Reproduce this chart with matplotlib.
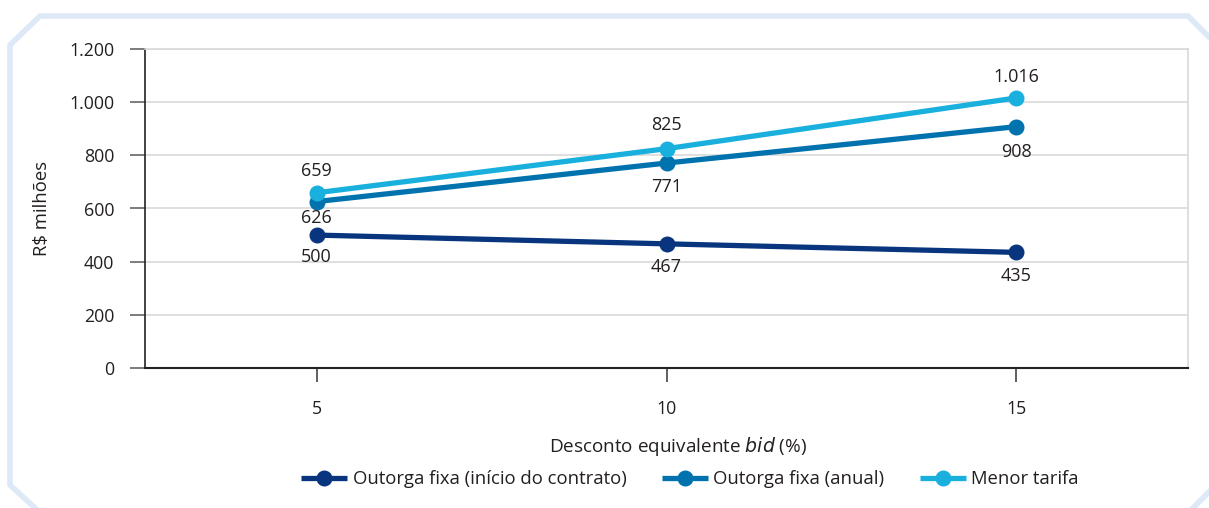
import matplotlib
matplotlib.use("Agg")
import matplotlib.pyplot as plt
from matplotlib.lines import Line2D

plt.rcParams['font.family'] = ['Open Sans', 'DejaVu Sans']

categories = ["5", "10", "15"]
series_names = ["Outorga fixa (início do contrato)", "Outorga fixa (anual)", "Menor tarifa"]
outorga_inicio = [500, 467, 435]
outorga_anual = [626, 771, 908]
menor_tarifa = [659, 825, 1016]
value_labels_inicio = ["500", "467", "435"]
value_labels_anual = ["626", "771", "908"]
value_labels_tarifa = ["659", "825", "1.016"]
yticks = [0, 200, 400, 600, 800, 1000, 1200]
ytick_labels = ["0", "200", "400", "600", "800", "1.000", "1.200"]

# label offsets in points (layout only)
label_offsets = [[-16, -17, -17], [-12, -17, -18], [16, 17, 15]]

colors = ["#08357d", "#0072ae", "#1ab0de"]
txt = '#231f20'

W, H = 1209, 508
fig = plt.figure(figsize=(W / 100, H / 100), dpi=100)

# decorative frame
frame_color = "#dde9f6"
def fx(x): return x / W
def fy(y): return 1 - y / H
pts = [(35, 508), (10, 485), (10, 45), (40, 16), (1188, 16), (1209, 37)]
fig.add_artist(Line2D([fx(p[0]) for p in pts], [fy(p[1]) for p in pts],
                      color=frame_color, lw=4, transform=fig.transFigure,
                      solid_joinstyle='miter'))
fig.add_artist(Line2D([fx(1193), fx(1209)], [fy(508), fy(492)],
                      color=frame_color, lw=4, transform=fig.transFigure))

ax = fig.add_axes([145 / W, 1 - 368 / H, (1188 - 145) / W, (368 - 49) / H])
x = list(range(len(categories)))

data = [outorga_inicio, outorga_anual, menor_tarifa]
labels = [value_labels_inicio, value_labels_anual, value_labels_tarifa]
for vals, lab, c, name, offs in zip(data, labels, colors, series_names, label_offsets):
    ax.plot(x, vals, color=c, lw=3.8, marker='o', markersize=10.5, label=name,
            solid_capstyle='butt', zorder=3)
    for xi, v, t, off in zip(x, vals, lab, offs):
        ax.annotate(t, (xi, v), xytext=(0, off), textcoords='offset points',
                    ha='center', va='center', fontsize=13, color=txt)

ax.set_xlim(-0.49, 2.49)
ax.set_ylim(0, 1200)
ax.set_xticks(x)
ax.set_xticklabels(categories)
ax.set_yticks(yticks)
ax.set_yticklabels(ytick_labels)
ax.grid(axis='y', color='#d9d9d9', lw=1.2)
ax.set_axisbelow(True)

for s in ['top', 'right']:
    ax.spines[s].set_color('#d9d9d9')
    ax.spines[s].set_linewidth(1.2)
ax.spines['left'].set_color('#222222')
ax.spines['bottom'].set_color('#222222')
ax.spines['left'].set_linewidth(1.2)
ax.spines['bottom'].set_linewidth(1.5)

ax.tick_params(axis='y', length=11, width=1.2, color='#666666', pad=11,
               labelsize=12.8, labelcolor=txt)
ax.tick_params(axis='x', length=10, width=1.2, color='#444444', pad=13,
               labelsize=12.8, labelcolor=txt)

ax.set_ylabel("R$ milhões", fontsize=13.3, color=txt, labelpad=13)
ax.set_xlabel("Desconto equivalente $\\it{bid}$ (%)", fontsize=13.6,
              color=txt, labelpad=12)
ax.xaxis.label.set_x(0.511)

leg = fig.legend(loc='center', bbox_to_anchor=(690 / W, 1 - 479 / H), ncol=3,
                 frameon=False, fontsize=13.3, handlelength=2.5,
                 columnspacing=1.9, handletextpad=0.3, labelcolor=txt)

fig.savefig("out.png", dpi=100)
